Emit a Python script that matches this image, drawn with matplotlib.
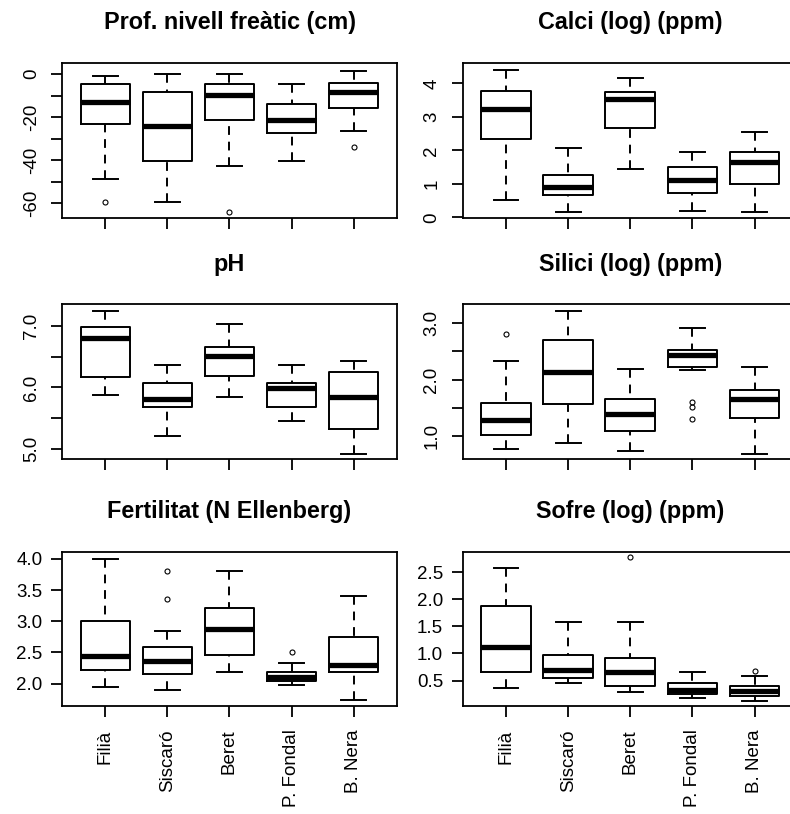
import matplotlib.pyplot as plt
import numpy as np

plt.rcParams['font.family'] = ['Liberation Sans', 'DejaVu Sans']

# llocs (eix x)
sites = ['Filià', 'Siscaró', 'Beret', 'P. Fondal', 'B. Nera']

# estadístics de cada caixa: [bigoti inf, Q1, mediana, Q3, bigoti sup]
prof = [[-48.7, -23.3, -13.2, -4.8, -0.8],
        [-59.5, -40.5, -23.9, -8.4, 0.0],
        [-42.9, -21.4, -9.9, -4.8, 0.0],
        [-40.5, -27.3, -21.4, -14.0, -4.8],
        [-26.4, -15.8, -8.2, -4.0, 1.5]]
prof_out = [[-59.5], [], [-64.2], [], [-34.0]]

calci = [[0.52, 2.35, 3.25, 3.77, 4.41],
         [0.16, 0.68, 0.91, 1.27, 2.08],
         [1.43, 2.66, 3.52, 3.73, 4.15],
         [0.20, 0.74, 1.12, 1.49, 1.96],
         [0.16, 1.01, 1.65, 1.95, 2.55]]
calci_out = [[], [], [], [], []]

ph = [[5.87, 6.17, 6.80, 6.98, 7.24],
      [5.21, 5.68, 5.82, 6.07, 6.36],
      [5.85, 6.19, 6.52, 6.66, 7.04],
      [5.46, 5.68, 5.99, 6.07, 6.36],
      [4.92, 5.32, 5.85, 6.25, 6.43]]
ph_out = [[], [], [], [], []]

silici = [[0.77, 1.02, 1.28, 1.59, 2.33],
          [0.87, 1.57, 2.14, 2.71, 3.21],
          [0.74, 1.08, 1.38, 1.66, 2.18],
          [2.17, 2.23, 2.43, 2.52, 2.92],
          [0.68, 1.31, 1.66, 1.82, 2.23]]
silici_out = [[2.80], [], [], [1.60, 1.51, 1.30], []]

fert = [[1.94, 2.21, 2.44, 3.01, 4.00],
        [1.90, 2.16, 2.36, 2.58, 2.84],
        [2.19, 2.46, 2.87, 3.21, 3.80],
        [1.98, 2.04, 2.11, 2.19, 2.33],
        [1.73, 2.19, 2.30, 2.75, 3.41]]
fert_out = [[], [3.81, 3.36], [], [2.50], []]

sofre = [[0.36, 0.66, 1.12, 1.87, 2.57],
         [0.45, 0.55, 0.69, 0.98, 1.58],
         [0.28, 0.39, 0.66, 0.92, 1.58],
         [0.17, 0.25, 0.33, 0.46, 0.65],
         [0.12, 0.21, 0.30, 0.39, 0.59]]
sofre_out = [[], [], [2.77], [], [0.68]]

W, H = 790, 814
fig = plt.figure(figsize=(W / 100, H / 100), dpi=100)


def add_ax(left, top, right, bottom):
    # coordenades en píxels des de dalt a l'esquerra
    return fig.add_axes([left / W, 1 - bottom / H, (right - left) / W, (bottom - top) / H])


def caixes(ax, stats, out):
    bstats = [dict(whislo=s[0], q1=s[1], med=s[2], q3=s[3], whishi=s[4], fliers=o)
              for s, o in zip(stats, out)]
    bp = ax.bxp(bstats, positions=range(1, 6), widths=0.8, capwidths=0.4,
                boxprops=dict(color='black', lw=1.4),
                medianprops=dict(color='black', lw=3.8, solid_capstyle='butt'),
                whiskerprops=dict(color='black', lw=1.4, linestyle=(0, (4.5, 3.5))),
                capprops=dict(color='black', lw=1.4),
                flierprops=dict(marker='o', markersize=3.6, markerfacecolor='none',
                                markeredgecolor='black', markeredgewidth=0.8))
    # a R el bigoti es dibuixa des del topall cap a la caixa
    for l in bp['whiskers']:
        x, y = l.get_data()
        l.set_data(x[::-1], y[::-1])


panels = [
    ('Prof. nivell freàtic (cm)', prof, prof_out, (-66.8, 5.1),
     [-60, -50, -40, -30, -20, -10, 0], ['-60', '', '-40', '', '-20', '', '0'], False,
     (62, 63, 397, 218)),
    ('Calci (log) (ppm)', calci, calci_out, (-0.02, 4.61),
     [0, 1, 2, 3, 4], ['0', '1', '2', '3', '4'], False,
     (462.5, 63, 798, 218)),
    ('pH', ph, ph_out, (4.835, 7.36),
     [5.0, 5.5, 6.0, 6.5, 7.0], ['5.0', '', '6.0', '', '7.0'], False,
     (62, 304, 397, 459)),
    ('Silici (log) (ppm)', silici, silici_out, (0.59, 3.34),
     [1.0, 1.5, 2.0, 2.5, 3.0], ['1.0', '', '2.0', '', '3.0'], False,
     (462.5, 304, 798, 459)),
    ('Fertilitat (N Ellenberg)', fert, fert_out, (1.64, 4.12),
     [2.0, 2.5, 3.0, 3.5, 4.0], ['2.0', '2.5', '3.0', '3.5', '4.0'], True,
     (62, 551.5, 397, 706)),
    ('Sofre (log) (ppm)', sofre, sofre_out, (0.03, 2.88),
     [0.5, 1.0, 1.5, 2.0, 2.5], ['0.5', '1.0', '1.5', '2.0', '2.5'], True,
     (462.5, 551.5, 798, 706)),
]

for i, (title, stats, out, ylim, yt, ylab, horiz, rect) in enumerate(panels):
    ax = add_ax(*rect)
    caixes(ax, stats, out)
    ax.set_xlim(0.3, 5.7)
    ax.set_ylim(*ylim)
    ax.set_xticks(range(1, 6))
    if i >= 4:
        ax.set_xticklabels(sites, rotation=90, fontsize=13.5)
    else:
        ax.set_xticklabels([])
    ax.set_yticks(yt)
    ax.tick_params(direction='out', length=8, width=1.3, colors='black')
    if horiz:
        ax.set_yticklabels(ylab, fontsize=13.5)
        ax.tick_params(axis='y', pad=6)
    else:
        ax.set_yticklabels(ylab, fontsize=13.5, rotation=90, va='center')
        ax.tick_params(axis='y', pad=8)
    ax.tick_params(axis='x', pad=9)
    for sp in ax.spines.values():
        sp.set_linewidth(1.3)
    left, top, right, bottom = rect
    fig.text((left + right) / 2 / W, 1 - (top - 33.5) / H, title,
             ha='center', va='baseline', fontsize=16.8, fontweight='bold')

fig.savefig('out.png', dpi=100)
